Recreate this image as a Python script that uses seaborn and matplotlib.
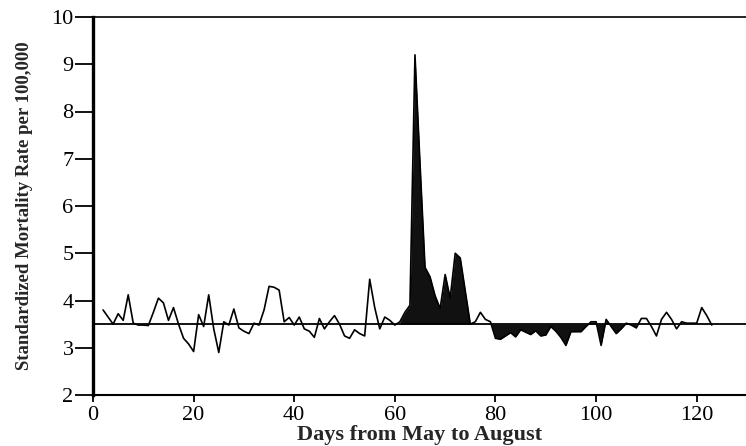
import numpy as np
import pandas as pd
import matplotlib
matplotlib.use("Agg")
import matplotlib.pyplot as plt
import seaborn as sns

# daily standardized mortality, days 2..123
days = list(range(2, 124))
rate = [
    3.80, 3.65, 3.50, 3.72, 3.58, 4.12, 3.52, 3.48, 3.48, 3.47,   # 2-11
    3.75, 4.05, 3.95, 3.58, 3.85, 3.50, 3.20, 3.08, 2.92, 3.70,   # 12-21
    3.45, 4.12, 3.40, 2.90, 3.55, 3.48, 3.82, 3.42, 3.35, 3.30,   # 22-31
    3.52, 3.48, 3.80, 4.30, 4.28, 4.22, 3.55, 3.64, 3.48, 3.65,   # 32-41
    3.40, 3.35, 3.22, 3.62, 3.40, 3.55, 3.68, 3.50, 3.25, 3.20,   # 42-51
    3.38, 3.30, 3.25, 4.45, 3.85, 3.40, 3.65, 3.58, 3.48, 3.55,   # 52-61
    3.75, 3.90, 9.20, 6.90, 4.70, 4.50, 4.10, 3.83, 4.55, 4.05,   # 62-71
    5.00, 4.90, 4.20, 3.50, 3.55, 3.75, 3.60, 3.55, 3.20, 3.18,   # 72-81
    3.25, 3.32, 3.23, 3.38, 3.33, 3.28, 3.36, 3.25, 3.27, 3.45,   # 82-91
    3.35, 3.22, 3.05, 3.34, 3.34, 3.34, 3.45, 3.55, 3.55, 3.05,   # 92-101
    3.60, 3.45, 3.30, 3.40, 3.52, 3.48, 3.42, 3.62, 3.62, 3.45,   # 102-111
    3.25, 3.60, 3.75, 3.60, 3.40, 3.55, 3.52, 3.52, 3.52, 3.85,   # 112-121
    3.68, 3.48,                                                   # 122-123
]
baseline = 3.5
heat_spans = [(61, 75), (79, 108)]

x_ticks = [0, 20, 40, 60, 80, 100, 120]
y_ticks = [2, 3, 4, 5, 6, 7, 8, 9, 10]

df = pd.DataFrame({"day": days, "rate": rate})

sns.set_style("ticks")
plt.rcParams["font.family"] = ["Liberation Serif", "DejaVu Serif"]

fig = plt.figure(figsize=(7.46, 4.46), dpi=100)
ax = fig.add_axes([93 / 746, 51 / 446, 653 / 746, 378 / 446])

# shaded excess / deficit during the heat wave
d = df["day"].to_numpy()
for lo, hi in heat_spans:
    m = (d >= lo) & (d <= hi)
    ax.fill_between(df["day"][m], df["rate"][m], baseline,
                    color="#111111", linewidth=0, interpolate=True)

sns.lineplot(data=df, x="day", y="rate", ax=ax, color="black", linewidth=1.2)
ax.axhline(baseline, color="black", linewidth=1.3)

ax.set_xlim(0, 129.8)
ax.set_ylim(2, 10)
ax.set_xticks(x_ticks)
ax.set_yticks(y_ticks)

ax.spines["right"].set_visible(False)
ax.spines["left"].set_linewidth(2.4)
ax.spines["bottom"].set_linewidth(1.5)
ax.spines["top"].set_linewidth(1.2)
for s in ax.spines.values():
    s.set_color("black")

ax.tick_params(axis="y", direction="out", length=13, width=1.3, pad=1,
               labelsize=16, colors="black")
ax.tick_params(axis="x", direction="out", length=5, width=1.3, pad=3,
               labelsize=16, colors="black")

ax.set_xlabel("Days from May to August", fontsize=16, fontweight="bold", labelpad=0)
ax.set_ylabel("Standardized Mortality Rate per 100,000", fontsize=13.5,
              fontweight="bold", labelpad=13)

fig.savefig("out.png", dpi=100)
